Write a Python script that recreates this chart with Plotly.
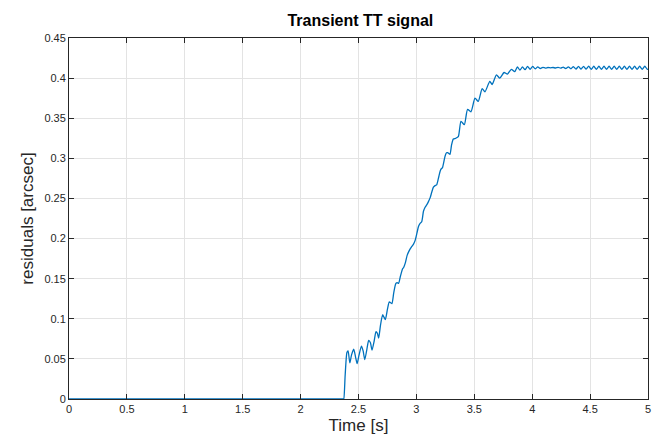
import plotly.graph_objects as go

# Time [s] and residuals [arcsec]
time_s = [
    0.0, 2.370, 2.373, 2.385, 2.400, 2.410, 2.425, 2.440, 2.459, 2.475, 2.488,
    2.505, 2.525, 2.540, 2.554, 2.570, 2.588, 2.603, 2.617, 2.635, 2.651,
    2.663, 2.674, 2.690, 2.708, 2.720, 2.732, 2.750, 2.766, 2.778, 2.789,
    2.805, 2.823, 2.835, 2.846, 2.862, 2.880, 2.890, 2.905, 2.920, 2.938,
    2.955, 2.975, 2.990, 3.005, 3.018, 3.032, 3.046, 3.061, 3.075, 3.089,
    3.104, 3.119, 3.133, 3.147, 3.161, 3.175, 3.190, 3.205, 3.215, 3.224,
    3.236, 3.248, 3.260, 3.270, 3.280, 3.290, 3.304, 3.319, 3.340, 3.362,
    3.385, 3.414, 3.442, 3.471, 3.506, 3.534, 3.568, 3.592, 3.634, 3.654,
    3.691, 3.720, 3.757, 3.786, 3.820, 3.849, 3.872,
    3.894, 3.916, 3.938, 3.960, 3.982, 4.004, 4.026, 4.048, 4.070, 4.092,
    4.114, 4.136, 4.158, 4.180, 4.202, 4.224, 4.246, 4.268, 4.290, 4.312,
    4.334, 4.356, 4.378, 4.400, 4.422, 4.444, 4.466, 4.488, 4.510, 4.532,
    4.554, 4.576, 4.598, 4.620, 4.642, 4.664, 4.686, 4.708, 4.730, 4.752,
    4.774, 4.796, 4.818, 4.840, 4.862, 4.884, 4.906, 4.928, 4.950, 4.972,
    4.994, 5.000,
]
residuals = [
    0.0, 0.0, 0.0, 0.030, 0.058, 0.060, 0.045, 0.055, 0.062, 0.052, 0.044,
    0.055, 0.066, 0.060, 0.049, 0.060, 0.073, 0.070, 0.061, 0.072, 0.084,
    0.082, 0.076, 0.092, 0.105, 0.102, 0.099, 0.112, 0.121, 0.120, 0.119,
    0.133, 0.144, 0.145, 0.144, 0.153, 0.162, 0.164, 0.170, 0.179, 0.185,
    0.189, 0.193, 0.198, 0.207, 0.215, 0.219, 0.221, 0.234, 0.239, 0.242,
    0.246, 0.251, 0.258, 0.264, 0.266, 0.267, 0.275, 0.284, 0.287, 0.288,
    0.295, 0.303, 0.307, 0.307, 0.306, 0.305, 0.317, 0.324, 0.325, 0.327,
    0.346, 0.342, 0.361, 0.358, 0.375, 0.371, 0.387, 0.383, 0.396, 0.392,
    0.404, 0.400, 0.407, 0.405, 0.411, 0.408, 0.414,
    0.4100, 0.4140, 0.4105, 0.4145, 0.4110, 0.4145, 0.4115, 0.4140, 0.4120, 0.4135,
    0.4125, 0.4132, 0.4128, 0.4132, 0.4126, 0.4134, 0.4124, 0.4136, 0.4120, 0.4140,
    0.4116, 0.4144, 0.4113, 0.4146, 0.4112, 0.4147, 0.4111, 0.4148, 0.4110, 0.4148,
    0.4110, 0.4148, 0.4110, 0.4148, 0.4110, 0.4148, 0.4110, 0.4148, 0.4110, 0.4148,
    0.4110, 0.4148, 0.4110, 0.4148, 0.4110, 0.4148, 0.4110, 0.4148, 0.4110, 0.4148,
    0.4110, 0.4115,
]

x_ticks = [0, 0.5, 1, 1.5, 2, 2.5, 3, 3.5, 4, 4.5, 5]
x_labels = ["0", "0.5", "1", "1.5", "2", "2.5", "3", "3.5", "4", "4.5", "5"]
y_ticks = [0, 0.05, 0.1, 0.15, 0.2, 0.25, 0.3, 0.35, 0.4, 0.45]
y_labels = ["0", "0.05", "0.1", "0.15", "0.2", "0.25", "0.3", "0.35", "0.4", "0.45"]

FONT = "Liberation Sans, Arial, Helvetica, sans-serif"
AX = "#262626"

fig = go.Figure()
fig.add_trace(go.Scatter(
    x=time_s, y=residuals, mode="lines",
    line=dict(color="#0072BD", width=1.3, shape="spline", smoothing=0.6),
    showlegend=False, hoverinfo="skip",
))

axis_common = dict(
    showline=True, linecolor=AX, linewidth=1, mirror="ticks",
    ticks="inside", ticklen=5, tickcolor=AX, tickwidth=1,
    showgrid=True, gridcolor="#e3e3e3", gridwidth=1,
    zeroline=False, tickfont=dict(family=FONT, size=11, color=AX),
    ticklabeloverflow="allow",
)

fig.update_xaxes(
    range=[0, 5], tickvals=x_ticks, ticktext=x_labels,
    title=dict(text="Time [s]", font=dict(family=FONT, size=17, color=AX), standoff=4),
    **axis_common,
)
fig.update_yaxes(
    range=[0, 0.45], tickvals=y_ticks, ticktext=y_labels,
    title=dict(text="residuals [arcsec]", font=dict(family=FONT, size=17, color=AX), standoff=6),
    **axis_common,
)

fig.update_layout(
    width=654, height=448,
    margin=dict(l=69, r=3, t=38, b=49),
    paper_bgcolor="white", plot_bgcolor="white",
    title=dict(text="<b>Transient TT signal</b>", x=0.551, xanchor="center",
               y=0.955, yanchor="middle",
               font=dict(family=FONT, size=16, color="black")),
)

fig.write_html("out.html")
